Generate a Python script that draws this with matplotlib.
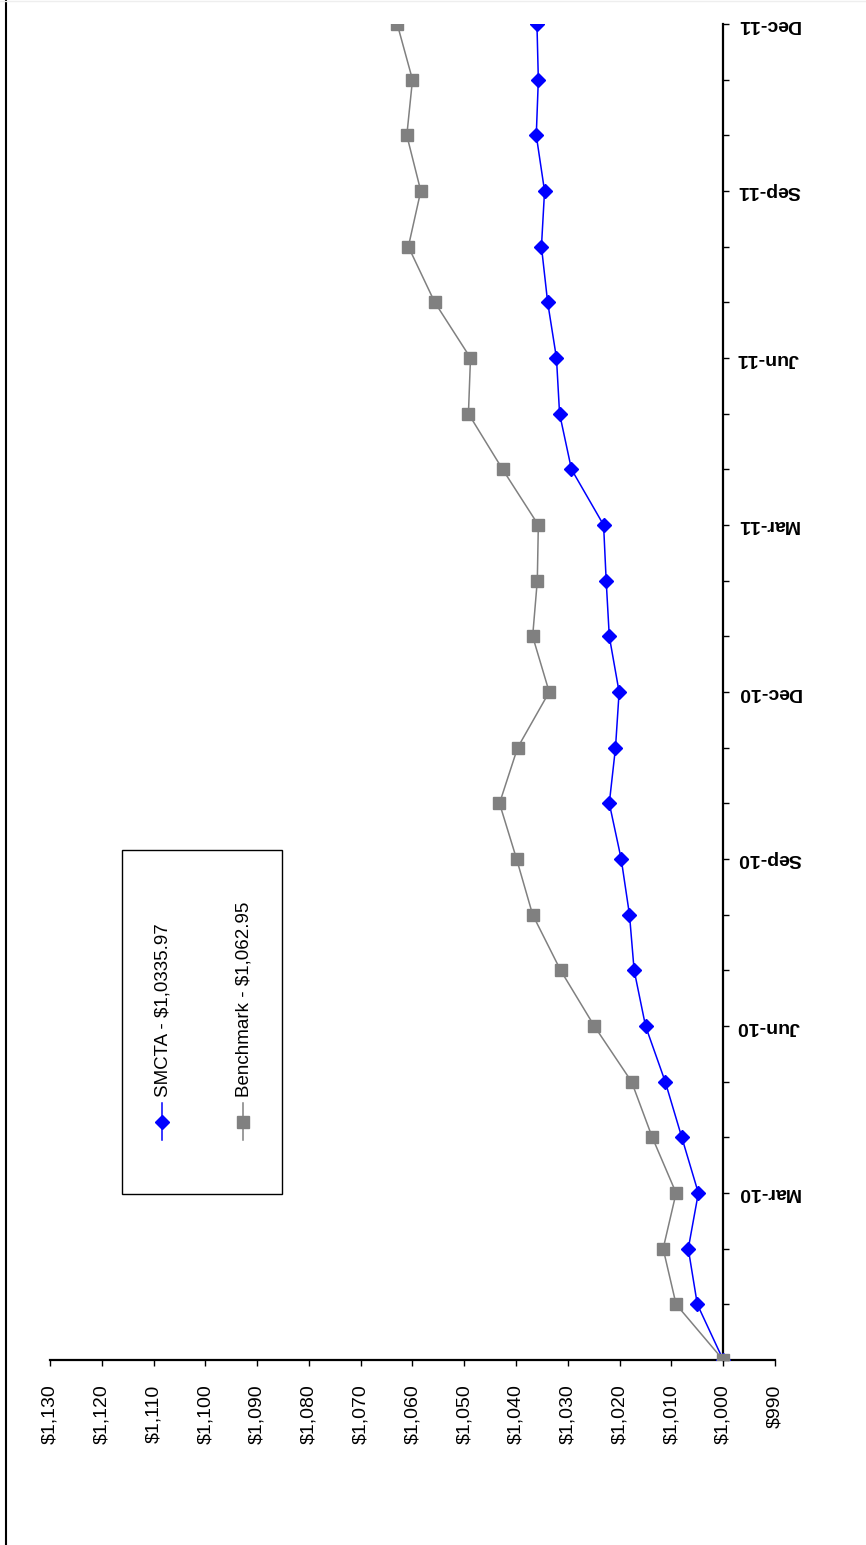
import matplotlib
matplotlib.use("Agg")
import matplotlib.pyplot as plt
from matplotlib.lines import Line2D
from matplotlib.patches import Rectangle
from matplotlib.ticker import FuncFormatter

plt.rcParams["font.family"] = ["Liberation Sans", "DejaVu Sans"]

# month-end index 0 = Dec-09 ... 24 = Dec-11
months = list(range(25))
month_labels = {3: "Mar-10", 6: "Jun-10", 9: "Sep-10", 12: "Dec-10",
                15: "Mar-11", 18: "Jun-11", 21: "Sep-11", 24: "Dec-11"}

smcta = [1000.0, 1005.0, 1006.75, 1004.8, 1008.0, 1011.2, 1015.0, 1017.2,
         1018.1, 1019.7, 1022.0, 1020.8, 1020.1, 1022.0, 1022.6, 1023.1,
         1029.3, 1031.6, 1032.2, 1033.9, 1035.1, 1034.5, 1036.1, 1035.7,
         1035.97]
benchmark = [1000.0, 1009.1, 1011.6, 1009.1, 1013.7, 1017.7, 1024.9, 1031.4,
             1036.8, 1039.9, 1043.2, 1039.7, 1033.6, 1036.8, 1035.9, 1035.7,
             1042.6, 1049.2, 1048.8, 1055.7, 1060.8, 1058.4, 1061.1, 1060.0,
             1062.95]

smcta_label = "SMCTA - $1,0335.97"
bench_label = "Benchmark - $1,062.95"

value_ticks = list(range(990, 1140, 10))

W, H = 866, 1545
fig = plt.figure(figsize=(W / 100, H / 100), dpi=100)


def fx(px):
    return px / W


def fy(py):
    return 1 - py / H


ax = fig.add_axes([fx(50), fy(1360), fx(775) - fx(50), fy(24) - fy(1360)])

# page is laid out sideways: values run right-to-left, months bottom-to-top
ax.plot(smcta, months, color="#0000FF", lw=1.1, marker="D", ms=7,
        mec="#0000FF", mfc="#0000FF", zorder=3)
ax.plot(benchmark, months, color="#808080", lw=1.1, marker="s", ms=8,
        mec="#808080", mfc="#808080", zorder=3)

ax.set_xlim(1130, 990)
ax.set_ylim(0, 24)

for s in ("left", "top"):
    ax.spines[s].set_visible(False)
ax.spines["bottom"].set_linewidth(1.6)
ax.spines["right"].set_position(("data", 1000))
ax.spines["right"].set_linewidth(1.6)

ax.yaxis.tick_right()
ax.set_yticks(list(month_labels.keys()))
ax.set_yticklabels(list(month_labels.values()), rotation=180,
                   fontsize=14, fontweight="bold", va="center")
ax.set_yticks(months, minor=True)
ax.tick_params(axis="y", which="both", direction="out", length=4,
               width=1, pad=6)

ax.set_xticks(value_ticks)
ax.xaxis.set_major_formatter(FuncFormatter(lambda v, p: f"${v:,.0f}"))
ax.tick_params(axis="x", direction="out", length=4.5, width=1, pad=13,
               labelsize=14, labelrotation=90)
for lbl in ax.get_xticklabels():
    lbl.set_va("top")

# legend, drawn sideways to match the page orientation
fig.add_artist(Rectangle((fx(122), fy(1194)), fx(282) - fx(122),
                         fy(850) - fy(1194), transform=fig.transFigure,
                         fill=False, edgecolor="black", lw=1))
for xc, color, marker, ms, text in [
        (162, "#0000FF", "D", 7, smcta_label),
        (243, "#808080", "s", 8, bench_label)]:
    fig.add_artist(Line2D([fx(xc), fx(xc)], [fy(1140), fy(1103)],
                          transform=fig.transFigure, color=color, lw=1.1))
    fig.add_artist(Line2D([fx(xc)], [fy(1122)], transform=fig.transFigure,
                          marker=marker, ms=ms, color=color, lw=0))
    fig.text(fx(xc + 1), fy(1097), text, rotation=90, fontsize=13.5,
             ha="center", va="bottom")

# page frame
fig.add_artist(Line2D([fx(6), fx(6)], [0, 1], transform=fig.transFigure,
                      color="black", lw=1.5))
fig.add_artist(Line2D([0, 1], [fy(0.5), fy(0.5)], transform=fig.transFigure,
                      color="#eeeeee", lw=1))

fig.savefig("out.png", dpi=100)
